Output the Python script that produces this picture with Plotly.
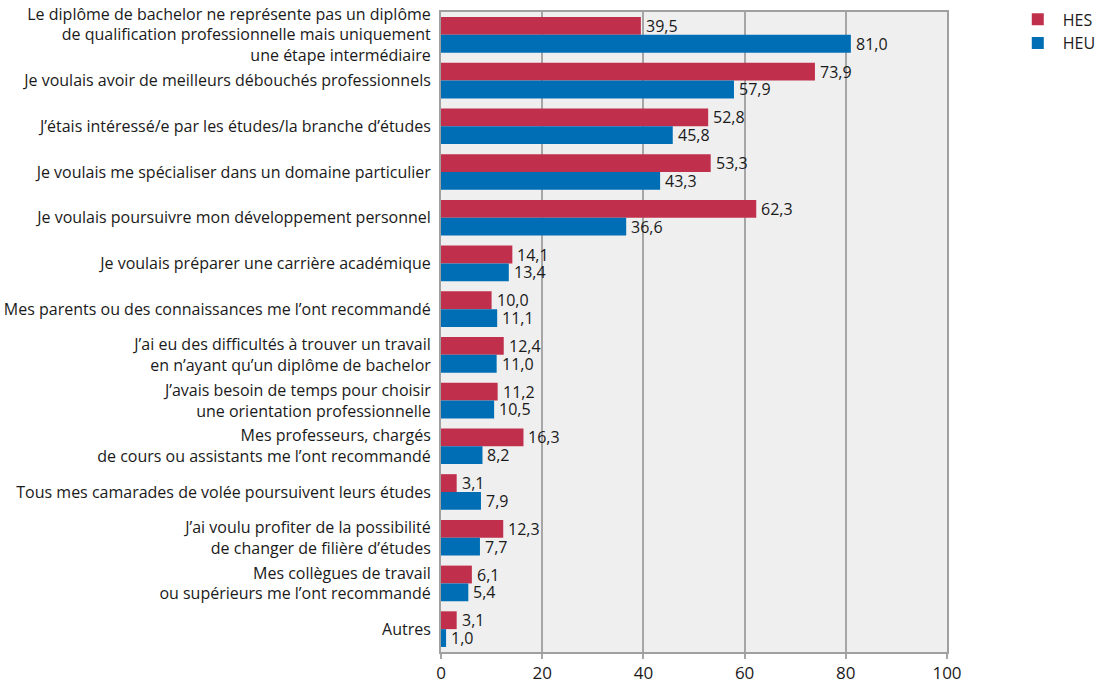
import plotly.graph_objects as go

categories = [
    "Le diplôme de bachelor ne représente pas un diplôme<br>de qualification professionnelle mais uniquement<br>une étape intermédiaire",
    "Je voulais avoir de meilleurs débouchés professionnels",
    "J’étais intéressé/e par les études/la branche d’études",
    "Je voulais me spécialiser dans un domaine particulier",
    "Je voulais poursuivre mon développement personnel",
    "Je voulais préparer une carrière académique",
    "Mes parents ou des connaissances me l’ont recommandé",
    "J’ai eu des difficultés à trouver un travail<br>en n’ayant qu’un diplôme de bachelor",
    "J’avais besoin de temps pour choisir<br>une orientation professionnelle",
    "Mes professeurs, chargés<br>de cours ou assistants me l’ont recommandé",
    "Tous mes camarades de volée poursuivent leurs études",
    "J’ai voulu profiter de la possibilité<br>de changer de filière d’études",
    "Mes collègues de travail<br>ou supérieurs me l’ont recommandé",
    "Autres",
]
hes = [39.5, 73.9, 52.8, 53.3, 62.3, 14.1, 10.0, 12.4, 11.2, 16.3, 3.1, 12.3, 6.1, 3.1]
heu = [81.0, 57.9, 45.8, 43.3, 36.6, 13.4, 11.1, 11.0, 10.5, 8.2, 7.9, 7.7, 5.4, 1.0]
series_names = ["HES", "HEU"]
colors = ["#C0304D", "#006EB4"]
x_ticks = [0, 20, 40, 60, 80, 100]

FONT = "Open Sans"
TXT = "#1a1a1a"
fig = go.Figure()
for name, vals, col in zip(series_names, [hes, heu], colors):
    fig.add_trace(go.Bar(
        y=list(range(len(categories))), x=vals, name=name, orientation="h",
        marker=dict(color=col, line=dict(width=0)),
    ))

def fmt(v):
    return f"{v:.1f}".replace(".", ",")

bargap = 0.22
bw = (1 - bargap) / 2
for k, vals in enumerate([hes, heu]):
    off = -bw / 2 if k == 0 else bw / 2
    for i, v in enumerate(vals):
        fig.add_annotation(
            x=v, y=i + off, xref="x", yref="y", text=fmt(v),
            showarrow=False, xanchor="left", yanchor="middle", xshift=4,
            bgcolor="rgba(0,0,0,0)", borderpad=0,
            font=dict(family=FONT, size=16, color=TXT),
        )

fig.update_layout(
    barmode="group", bargap=bargap, bargroupgap=0,
    width=1098, height=684,
    margin=dict(l=441, r=151, t=12, b=32, autoexpand=False),
    paper_bgcolor="white", plot_bgcolor="#EFEFEF",
    font=dict(family=FONT, size=16, color=TXT),
    showlegend=True,
    legend=dict(x=1.13, y=1.015, xanchor="left", yanchor="top",
                font=dict(family=FONT, size=16, color=TXT),
                itemwidth=40, traceorder="normal"),
    xaxis=dict(range=[0, 100], tickvals=x_ticks, ticktext=[str(t) for t in x_ticks],
               showgrid=True, gridcolor="#A6A6A6", gridwidth=1.5,
               showline=True, linecolor="#A0A0A0", linewidth=2, mirror=True,
               ticks="outside", ticklen=5, tickcolor="#A6A6A6", tickwidth=1.5,
               tickfont=dict(family=FONT, size=17, color=TXT),
               zeroline=False, fixedrange=True, automargin=False),
    yaxis=dict(tickvals=list(range(len(categories))), ticktext=categories,
               range=[len(categories) - 0.5, -0.5],
               showline=True, linecolor="#A0A0A0", linewidth=2, mirror=True,
               showgrid=False, zeroline=False, ticks="", ticklen=0,
               ticklabelstandoff=5,
               tickfont=dict(family=FONT, size=16, color=TXT),
               automargin=False, fixedrange=True),
)
fig.write_html(
    "out.html",
    config={"displayModeBar": False},
    post_script="document.body.style.margin='0';document.body.style.overflow='hidden';",
)
